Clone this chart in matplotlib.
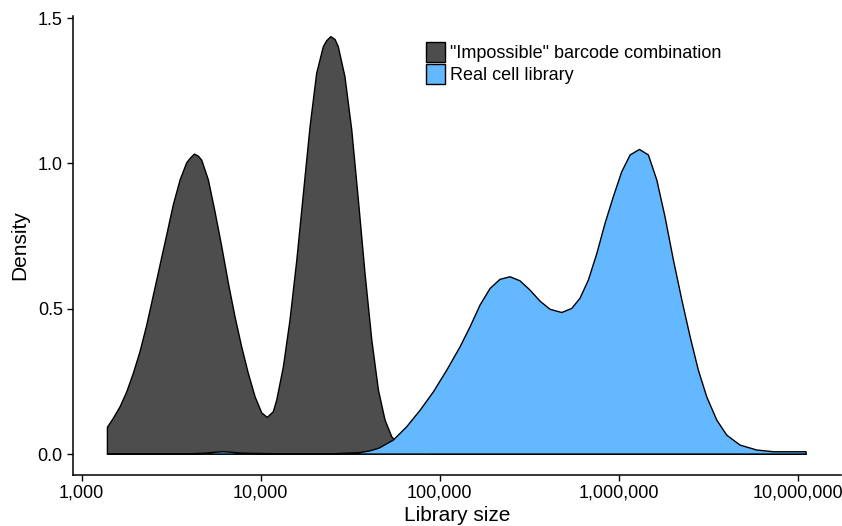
import numpy as np
import matplotlib
matplotlib.use('Agg')
import matplotlib.pyplot as plt
from matplotlib.patches import Patch
from matplotlib.ticker import FuncFormatter, FixedLocator, NullLocator

plt.rcParams['font.family'] = ['Liberation Sans', 'DejaVu Sans']

# log10(library size) and density
impossible_log = [3.144, 3.177, 3.215, 3.252, 3.289, 3.326, 3.364, 3.401, 3.438, 3.475,
                  3.512, 3.550, 3.587, 3.606, 3.630, 3.652, 3.671, 3.708, 3.745, 3.783,
                  3.820, 3.857, 3.894, 3.931, 3.969, 4.006, 4.037, 4.071, 4.090, 4.127,
                  4.164, 4.202, 4.239, 4.276, 4.313, 4.350, 4.369, 4.392, 4.416, 4.434,
                  4.471, 4.509, 4.546, 4.583, 4.621, 4.658, 4.695, 4.732, 4.78, 4.85,
                  4.95, 5.05, 7.047]
impossible_dens = [0.092, 0.123, 0.163, 0.214, 0.278, 0.352, 0.444, 0.547, 0.650, 0.753,
                   0.857, 0.943, 1.002, 1.017, 1.032, 1.025, 1.011, 0.943, 0.834, 0.713,
                   0.587, 0.472, 0.369, 0.278, 0.197, 0.142, 0.126, 0.146, 0.186, 0.300,
                   0.461, 0.667, 0.897, 1.126, 1.310, 1.401, 1.422, 1.436, 1.426, 1.401,
                   1.298, 1.115, 0.874, 0.622, 0.392, 0.220, 0.117, 0.060, 0.025, 0.008,
                   0.002, 0.0, 0.0]

real_log = [3.144, 3.60, 3.69, 3.74, 3.79, 3.84, 3.90, 4.10, 4.40, 4.555,
            4.610, 4.660, 4.741, 4.816, 4.891, 4.965, 5.040, 5.114, 5.170, 5.226,
            5.282, 5.337, 5.393, 5.449, 5.505, 5.561, 5.617, 5.682, 5.738, 5.784,
            5.831, 5.878, 5.924, 5.970, 6.017, 6.064, 6.116, 6.166, 6.213, 6.259,
            6.306, 6.353, 6.399, 6.445, 6.492, 6.548, 6.604, 6.678, 6.771, 6.864,
            7.047]
real_dens = [0.001, 0.001, 0.003, 0.006, 0.008, 0.006, 0.003, 0.001, 0.001, 0.005,
             0.011, 0.020, 0.048, 0.094, 0.151, 0.214, 0.289, 0.369, 0.438, 0.513,
             0.570, 0.601, 0.610, 0.596, 0.564, 0.526, 0.498, 0.487, 0.501, 0.536,
             0.599, 0.690, 0.794, 0.885, 0.971, 1.029, 1.048, 1.029, 0.943, 0.816,
             0.667, 0.530, 0.404, 0.289, 0.197, 0.117, 0.065, 0.031, 0.014, 0.008,
             0.008]

labels = ['"Impossible" barcode combination', 'Real cell library']
colors = ['#4d4d4d', '#63b8ff']
xticks = [1e3, 1e4, 1e5, 1e6, 1e7]

fig = plt.figure(figsize=(8.42, 5.26), dpi=100)
ax = fig.add_axes([72.5 / 842, 51 / 526, (841 - 72.5) / 842, (510 - 51) / 526])

for xs, ys, c in [(impossible_log, impossible_dens, colors[0]),
                  (real_log, real_dens, colors[1])]:
    x = 10 ** np.array(xs)
    y = np.array(ys)
    px = np.concatenate([[x[0]], x, [x[-1]]])
    py = np.concatenate([[0], y, [0]])
    ax.fill(px, py, facecolor=c, edgecolor='black', linewidth=1.0, joinstyle='round')

ax.set_xscale('log')
ax.set_xlim(10 ** 2.949, 10 ** 7.242)
ax.set_ylim(-0.072, 1.507)
ax.xaxis.set_major_locator(FixedLocator(xticks))
ax.xaxis.set_minor_locator(NullLocator())
ax.xaxis.set_major_formatter(FuncFormatter(lambda v, p: f'{int(round(v)):,}'))
ax.set_yticks([0.0, 0.5, 1.0, 1.5])
ax.yaxis.set_major_formatter(FuncFormatter(lambda v, p: f'{v:.1f}'))

for s in ['top', 'right']:
    ax.spines[s].set_visible(False)
for s in ['left', 'bottom']:
    ax.spines[s].set_linewidth(1.1)
ax.tick_params(axis='both', direction='out', length=4, width=1.0, labelsize=13,
               colors='black', pad=3)

ax.set_xlabel('Library size', fontsize=15, labelpad=3)
ax.set_ylabel('Density', fontsize=15, labelpad=6)

handles = [Patch(facecolor=colors[0], edgecolor='black', linewidth=1.0),
           Patch(facecolor=colors[1], edgecolor='black', linewidth=1.0)]
fig.legend(handles, labels, loc='upper left', bbox_to_anchor=(426 / 842, 1 - 42 / 526),
           frameon=False, fontsize=13, handlelength=1.05, handleheight=1.3,
           handletextpad=0.3, labelspacing=0.12, borderpad=0, borderaxespad=0)

fig.savefig('out.png', dpi=100)
